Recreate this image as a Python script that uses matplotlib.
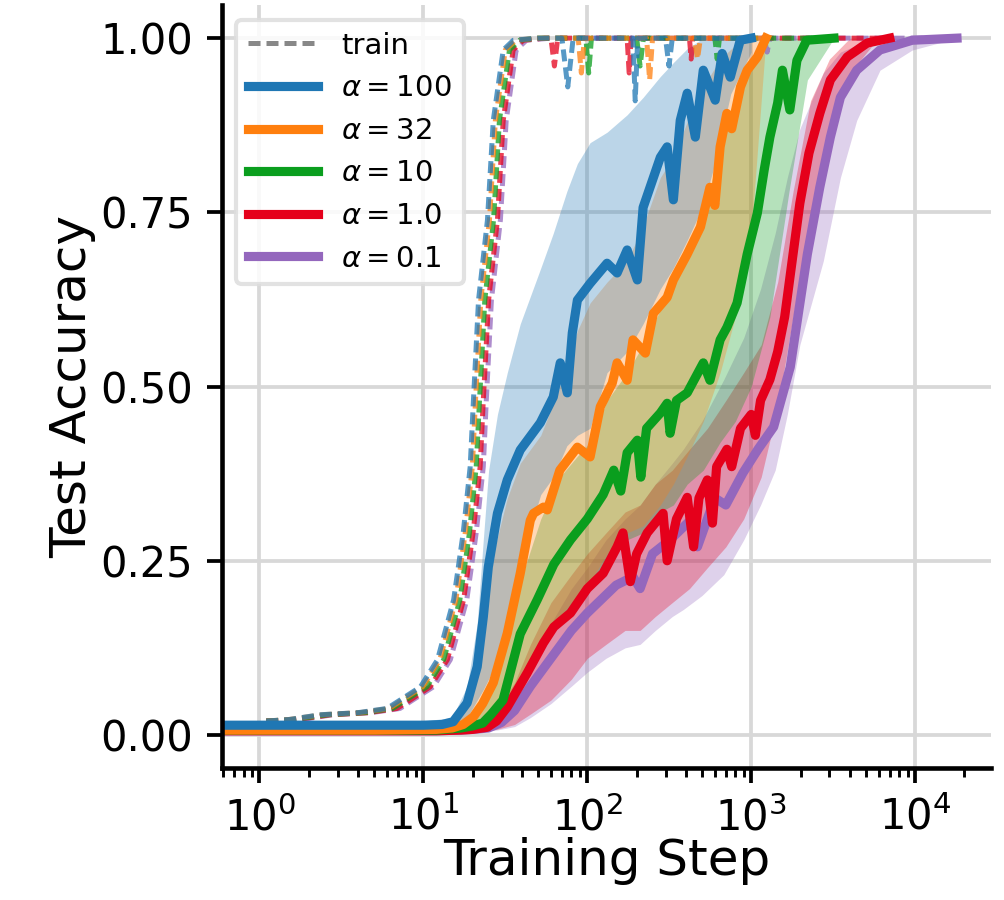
import matplotlib.pyplot as plt
from matplotlib.lines import Line2D

# ---- data (x = training step, y = accuracy) ----
labels = [r"$\alpha = 100$", r"$\alpha = 32$", r"$\alpha = 10$", r"$\alpha = 1.0$", r"$\alpha = 0.1$"]
colors = ["#1f77b4", "#ff7f0e", "#0a9e1e", "#e5001b", "#9467bd"]

# test accuracy (mean over seeds)
a100_x = [0.6, 5, 10, 13, 15.2, 18.5, 21.3, 23.2, 24.9, 28.3, 32.5, 39, 51.7, 62, 68.4, 75.5, 81, 87, 104,
          132, 152, 175, 202, 219, 279, 307, 335, 369, 407, 456, 510, 603, 665, 745, 857, 1000]
a100_y = [0.014, 0.014, 0.014, 0.015, 0.019, 0.046, 0.098, 0.169, 0.241, 0.318, 0.366, 0.409, 0.448, 0.485,
          0.534, 0.491, 0.577, 0.624, 0.648, 0.677, 0.663, 0.696, 0.653, 0.757, 0.829, 0.844, 0.768, 0.882,
          0.921, 0.858, 0.954, 0.911, 0.978, 0.944, 0.997, 1.0]
a32_x = [0.6, 5, 12, 15, 17.5, 20.2, 23, 26.7, 32.5, 39, 44.9, 47, 54, 57, 68, 82, 87, 104, 120, 142, 152,
         175, 190, 226, 253, 307, 335, 407, 490, 560, 600, 646, 710, 760, 860, 945, 1090, 1230]
a32_y = [0.007, 0.007, 0.008, 0.01, 0.015, 0.026, 0.045, 0.075, 0.146, 0.232, 0.308, 0.318, 0.327, 0.323,
         0.38, 0.405, 0.413, 0.399, 0.471, 0.505, 0.534, 0.509, 0.567, 0.548, 0.605, 0.628, 0.653, 0.69,
         0.729, 0.786, 0.76, 0.844, 0.892, 0.87, 0.93, 0.954, 0.973, 1.0]
a10_x = [0.6, 5, 12, 17, 20, 23, 26, 30.6, 39, 49.5, 62.5, 79, 100, 125, 145, 160, 175, 202, 212, 230, 279,
         307, 320, 350, 407, 510, 560, 646, 711, 820, 945, 1090, 1200, 1300, 1450, 1550, 1720, 1900, 2180, 3200]
a10_y = [0.007, 0.007, 0.007, 0.01, 0.013, 0.017, 0.03, 0.05, 0.145, 0.194, 0.245, 0.28, 0.31, 0.345, 0.38,
         0.35, 0.405, 0.423, 0.37, 0.44, 0.462, 0.476, 0.433, 0.48, 0.491, 0.534, 0.509, 0.567, 0.585, 0.62,
         0.69, 0.749, 0.811, 0.858, 0.907, 0.954, 0.897, 0.968, 0.997, 1.0]
a1_x = [0.6, 5, 12, 17, 20, 24.5, 28, 32.5, 43, 54, 62.5, 79, 100, 125, 152, 165, 183, 200, 232, 290, 307,
        350, 407, 445, 480, 540, 580, 615, 711, 760, 860, 1000, 1060, 1140, 1300, 1450, 1600, 1730, 1980,
        2250, 2620, 3040, 3850, 5100, 7000]
a1_y = [0.006, 0.006, 0.006, 0.007, 0.008, 0.011, 0.02, 0.04, 0.089, 0.132, 0.155, 0.175, 0.21, 0.232, 0.27,
        0.29, 0.22, 0.26, 0.29, 0.318, 0.25, 0.31, 0.341, 0.27, 0.34, 0.366, 0.304, 0.385, 0.41, 0.385, 0.44,
        0.46, 0.43, 0.48, 0.51, 0.55, 0.6, 0.66, 0.763, 0.835, 0.892, 0.94, 0.973, 0.993, 1.0]
a01_x = [0.6, 5, 12, 17, 20, 25, 30, 36, 45, 60, 80, 100, 150, 190, 210, 250, 320, 425, 470, 600, 700, 890,
         1100, 1370, 1730, 2200, 2620, 3040, 3500, 4400, 6100, 9600, 18000]
a01_y = [0.006, 0.006, 0.006, 0.007, 0.008, 0.01, 0.018, 0.035, 0.07, 0.11, 0.15, 0.175, 0.215, 0.227, 0.21,
         0.26, 0.28, 0.308, 0.27, 0.34, 0.33, 0.376, 0.41, 0.442, 0.528, 0.69, 0.786, 0.858, 0.915, 0.954,
         0.983, 0.997, 1.0]

# spread over seeds (shaded band)
a100_bx = [0.6, 10, 15, 18.5, 21.3, 23.2, 25, 28.3, 32.5, 39, 52, 62, 75, 87, 104, 132, 175, 219, 279, 335,
           407, 510, 600, 750, 1000]
a100_lo = [0.01, 0.01, 0.012, 0.025, 0.05, 0.065, 0.08, 0.11, 0.165, 0.25, 0.345, 0.37, 0.415, 0.43, 0.44,
           0.52, 0.55, 0.59, 0.64, 0.67, 0.71, 0.76, 0.82, 0.92, 0.98]
a100_hi = [0.02, 0.02, 0.025, 0.07, 0.16, 0.28, 0.38, 0.46, 0.52, 0.59, 0.67, 0.72, 0.78, 0.82, 0.85, 0.865,
           0.89, 0.915, 0.945, 0.965, 0.985, 1.0, 1.0, 1.0, 1.0]
a32_bx = [0.6, 12, 17, 20, 23, 26.7, 32.5, 39, 52, 68, 87, 104, 132, 175, 219, 279, 335, 407, 510, 646, 800,
          1000, 1230]
a32_lo = [0.004, 0.004, 0.006, 0.008, 0.012, 0.02, 0.04, 0.075, 0.13, 0.17, 0.2, 0.22, 0.26, 0.29, 0.3, 0.33,
          0.36, 0.4, 0.45, 0.52, 0.6, 0.72, 1.0]
a32_hi = [0.012, 0.013, 0.03, 0.06, 0.15, 0.26, 0.34, 0.39, 0.43, 0.5, 0.58, 0.62, 0.65, 0.68, 0.73, 0.8,
          0.83, 0.88, 0.93, 0.97, 0.99, 1.0, 1.0]
a10_bx = [0.6, 12, 17, 20, 23, 26.7, 32.5, 39, 52, 68, 87, 104, 132, 175, 219, 279, 335, 407, 510, 646, 800,
          1000, 1300, 1700, 2200, 3200]
a10_lo = [0.004, 0.004, 0.005, 0.007, 0.01, 0.02, 0.04, 0.07, 0.12, 0.16, 0.19, 0.21, 0.25, 0.28, 0.29, 0.32,
          0.33, 0.36, 0.38, 0.42, 0.45, 0.5, 0.6, 0.78, 0.94, 1.0]
a10_hi = [0.012, 0.012, 0.018, 0.028, 0.045, 0.075, 0.14, 0.22, 0.31, 0.37, 0.4, 0.42, 0.48, 0.52, 0.56, 0.61,
          0.65, 0.69, 0.75, 0.84, 0.92, 0.97, 1.0, 1.0, 1.0, 1.0]
a1_bx = [0.6, 12, 17, 22, 28, 36, 45, 60, 80, 100, 130, 170, 210, 260, 330, 420, 540, 700, 900, 1150, 1450,
         1800, 2300, 3000, 4000, 5500, 7000]
a1_lo = [0.003, 0.003, 0.004, 0.005, 0.008, 0.015, 0.03, 0.05, 0.08, 0.11, 0.13, 0.15, 0.15, 0.17, 0.19, 0.21,
         0.24, 0.27, 0.31, 0.37, 0.47, 0.6, 0.75, 0.88, 0.95, 0.99, 1.0]
a1_hi = [0.01, 0.01, 0.012, 0.018, 0.035, 0.075, 0.13, 0.19, 0.23, 0.26, 0.29, 0.32, 0.33, 0.36, 0.38, 0.41,
         0.44, 0.48, 0.52, 0.56, 0.65, 0.78, 0.91, 0.97, 1.0, 1.0, 1.0]
a01_bx = [0.6, 12, 17, 22, 28, 36, 45, 60, 80, 100, 130, 170, 210, 260, 330, 385, 500, 680, 900, 1140, 1400,
          1660, 1980, 2750, 3500, 4400, 6100, 9600, 18000]
a01_lo = [0.003, 0.003, 0.004, 0.005, 0.007, 0.012, 0.025, 0.045, 0.07, 0.09, 0.11, 0.125, 0.13, 0.15, 0.17,
          0.18, 0.2, 0.23, 0.28, 0.33, 0.38, 0.46, 0.56, 0.68, 0.8, 0.882, 0.954, 0.983, 1.0]
a01_hi = [0.01, 0.01, 0.012, 0.018, 0.035, 0.07, 0.11, 0.16, 0.21, 0.24, 0.28, 0.31, 0.33, 0.36, 0.39, 0.41,
          0.45, 0.51, 0.57, 0.64, 0.72, 0.8, 0.87, 0.95, 0.98, 0.99, 1.0, 1.0, 1.0]

# train accuracy (dashed)
train_rise = [0.02, 0.022, 0.029, 0.032, 0.038, 0.05, 0.069, 0.108, 0.194, 0.29, 0.385, 0.48, 0.624, 0.739,
              0.882, 0.983, 0.997]
t100_x = [1.1, 1.5, 2.35, 4, 6, 7.2, 9.6, 12.2, 15.3, 17.5, 19.3, 20.2, 21.7, 24.6, 26.7, 30.7, 35.4,
          50, 70, 76, 82, 190, 196, 203, 300, 315, 330, 1000]
t100_y = train_rise + [1.0, 1.0, 0.93, 1.0, 1.0, 0.91, 1.0, 1.0, 0.96, 1.0, 1.0]
t32_x = [1.1, 1.5, 2.4, 4.1, 6.2, 7.4, 9.9, 12.6, 15.8, 18.0, 19.9, 20.8, 22.4, 25.3, 27.5, 31.6, 36.5,
         50, 88, 92, 96, 230, 240, 250, 450, 470, 490, 1230]
t32_y = train_rise + [1.0, 1.0, 0.95, 1.0, 1.0, 0.94, 1.0, 1.0, 0.97, 1.0, 1.0]
t10_x = [1.1, 1.6, 2.6, 4.4, 6.5, 7.8, 10.5, 13.3, 16.7, 19.1, 21.0, 22.0, 23.7, 26.8, 29.1, 33.5, 38.6,
         50, 98, 102, 106, 200, 210, 220, 600, 620, 640, 3200]
t10_y = train_rise + [1.0, 1.0, 0.95, 1.0, 1.0, 0.96, 1.0, 1.0, 0.97, 1.0, 1.0]
t1_x = [1.1, 1.7, 2.7, 4.6, 6.9, 8.3, 11.0, 14.0, 17.6, 20.1, 22.2, 23.2, 25.0, 28.3, 30.7, 35.3, 40.7,
        55, 60, 63, 66, 175, 180, 185, 420, 430, 440, 7000]
t1_y = train_rise + [1.0, 1.0, 0.96, 1.0, 1.0, 0.95, 1.0, 1.0, 0.97, 1.0, 1.0]
t01_x = [1.1, 1.8, 2.8, 4.8, 7.2, 8.6, 11.5, 14.6, 18.4, 21.0, 23.2, 24.2, 26.0, 29.5, 32.0, 36.8, 42.5,
         60, 1200, 1250, 1300, 18000]
t01_y = train_rise + [1.0, 1.0, 0.98, 1.0, 1.0]

test_x = [a100_x, a32_x, a10_x, a1_x, a01_x]
test_y = [a100_y, a32_y, a10_y, a1_y, a01_y]
band_x = [a100_bx, a32_bx, a10_bx, a1_bx, a01_bx]
band_lo = [a100_lo, a32_lo, a10_lo, a1_lo, a01_lo]
band_hi = [a100_hi, a32_hi, a10_hi, a1_hi, a01_hi]
train_x = [t100_x, t32_x, t10_x, t1_x, t01_x]
train_y = [t100_y, t32_y, t10_y, t1_y, t01_y]

plt.rcParams['font.family'] = 'DejaVu Sans'
fig = plt.figure(figsize=(1004 / 300, 900 / 300), dpi=300)
ax = fig.add_axes([0.221, 0.147, 0.766, 0.847])

order = [4, 3, 2, 1, 0]  # alpha = 100 ends up on top
for i in order:
    ax.fill_between(band_x[i], band_lo[i], band_hi[i], color=colors[i], alpha=0.3, lw=0)
for i in order:
    ax.plot(train_x[i], train_y[i], color=colors[i], lw=1.2, ls=(0, (2.4, 1.2)), alpha=0.75)
handles = {}
for i in order:
    handles[i], = ax.plot(test_x[i], test_y[i], color=colors[i], lw=2.2, label=labels[i])

ax.set_xscale('log')
ax.set_xlim(0.59, 29000)
ax.set_ylim(-0.047, 1.047)
ax.set_yticks([0, 0.25, 0.5, 0.75, 1.0])
ax.grid(True, which='major', color='#d8d8d8', lw=0.9)
ax.set_axisbelow(True)
for s in ['top', 'right']:
    ax.spines[s].set_visible(False)
for s in ['left', 'bottom']:
    ax.spines[s].set_linewidth(1.1)
ax.tick_params(labelsize=10, width=0.9, length=3.5)
ax.tick_params(which='minor', width=0.7, length=2.2)
ax.set_xlabel('Training Step', fontsize=12, labelpad=-0.5)
ax.set_ylabel('Test Accuracy', fontsize=12, labelpad=1)

train_handle = Line2D([], [], color='#888888', lw=1.2, ls=(0, (2.4, 1.2)))
ax.legend([train_handle] + [handles[i] for i in range(5)], ['train'] + labels,
          loc='upper left', fontsize=7, handlelength=2.4, framealpha=0.85, edgecolor='#dddddd')

fig.savefig('out.png', dpi=300)
